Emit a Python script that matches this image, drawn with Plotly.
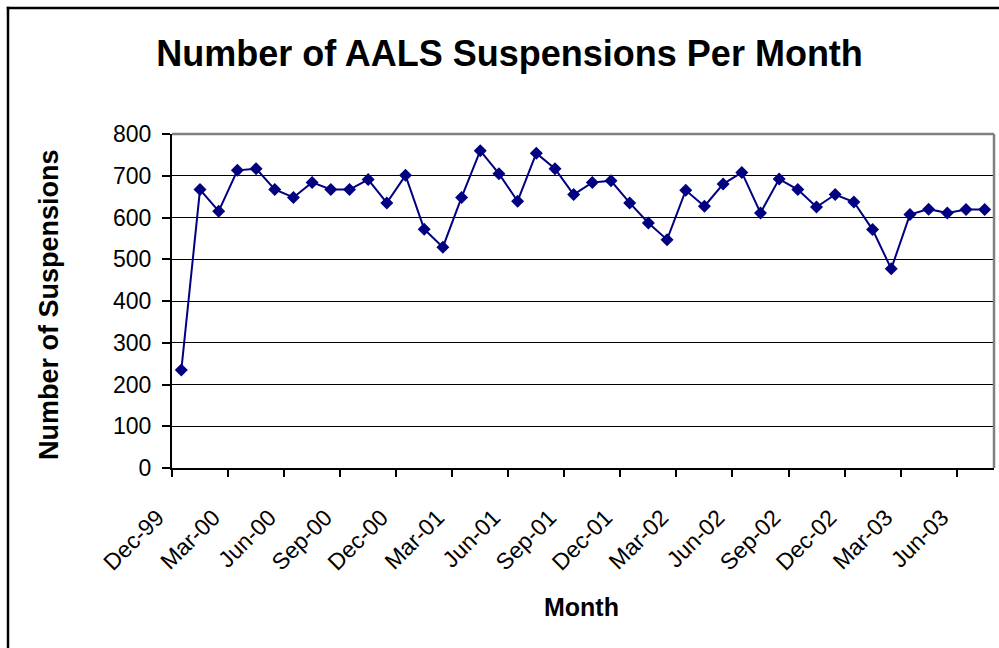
import pandas as pd
import plotly.graph_objects as go

# Monthly AALS suspension counts, Dec-1999 through Jul-2003
months = pd.date_range("1999-12-01", periods=44, freq="MS").strftime("%b-%y").tolist()
suspensions = [
    235, 667, 615, 713, 717, 667, 648, 684, 667, 667,
    691, 635, 701, 572, 529, 648, 760, 705, 639, 754,
    717, 655, 684, 688, 635, 587, 547, 665, 627, 680,
    708, 611, 692, 667, 625, 655, 637, 571, 477, 607,
    620, 611, 619, 619,
]
y_ticks = [0, 100, 200, 300, 400, 500, 600, 700, 800]

W, H = 999, 648
PL, PR, PT, PB = 172, 994, 134, 468  # plot-area edges in pixels


def px_x(x):
    return (x - PL) / (PR - PL)


def px_y(y):
    return (PB - y) / (PB - PT)


FONT = "Liberation Sans, Arial, sans-serif"
NAVY = "#000080"

fig = go.Figure(
    go.Scatter(
        x=months,
        y=suspensions,
        mode="lines+markers",
        line=dict(color=NAVY, width=2),
        marker=dict(symbol="diamond", size=10, color=NAVY),
        cliponaxis=False,
    )
)

fig.update_layout(
    width=W,
    height=H,
    margin=dict(l=PL, r=W - PR, t=PT, b=H - PB),
    paper_bgcolor="white",
    plot_bgcolor="white",
    showlegend=False,
    font=dict(family=FONT, color="black"),
    title=dict(
        text="<b>Number of AALS Suspensions Per Month</b>",
        font=dict(size=36, family=FONT, color="black"),
        xref="container", yref="container",
        x=509.5 / W, y=1 - 53 / H,
        xanchor="center", yanchor="middle",
    ),
)

fig.update_xaxes(
    type="category",
    range=[-0.5, len(months) - 0.5],
    tickmode="linear", tick0=0, dtick=3,
    tickson="boundaries",
    ticks="outside", ticklen=7, tickwidth=1.5, tickcolor="black",
    tickangle=-45,
    ticklabelshift=-24, ticklabelstandoff=25,
    tickfont=dict(size=23, family=FONT, color="black"),
    showline=True, linecolor="black", linewidth=2,
    showgrid=False, zeroline=False,
)

fig.update_yaxes(
    range=[0, 800],
    tickmode="array", tickvals=y_ticks,
    ticks="outside", ticklen=8, tickwidth=1.5, tickcolor="black",
    ticklabelstandoff=6,
    tickfont=dict(size=23, family=FONT, color="black"),
    showline=True, linecolor="black", linewidth=2,
    showgrid=True, gridcolor="black", gridwidth=1,
    zeroline=False,
)

# Grey plot-area frame along the top and right edges
frame = dict(color="#808080", width=2.5)
fig.add_shape(type="line", xref="paper", yref="paper",
              x0=0, x1=1, y0=1, y1=1, line=frame, layer="above")
fig.add_shape(type="line", xref="paper", yref="paper",
              x0=1, x1=1, y0=0, y1=1, line=frame, layer="above")

# Outer chart border (top and left edges inside the page)
border = dict(color="black", width=2.5)
fig.add_shape(type="line", xref="paper", yref="paper",
              x0=px_x(6.75), x1=px_x(W), y0=px_y(8), y1=px_y(8),
              line=border, layer="above")
fig.add_shape(type="line", xref="paper", yref="paper",
              x0=px_x(8), x1=px_x(8), y0=px_y(6.75), y1=px_y(H),
              line=border, layer="above")

fig.add_annotation(
    text="<b>Number of Suspensions</b>", textangle=-90,
    xref="paper", yref="paper", x=px_x(49), y=px_y(304),
    xanchor="center", yanchor="middle", showarrow=False,
    font=dict(size=27, family=FONT, color="black"),
)
fig.add_annotation(
    text="<b>Month</b>",
    xref="paper", yref="paper", x=px_x(581), y=px_y(607),
    xanchor="center", yanchor="middle", showarrow=False,
    font=dict(size=25, family=FONT, color="black"),
)

fig.write_html("out.html")
